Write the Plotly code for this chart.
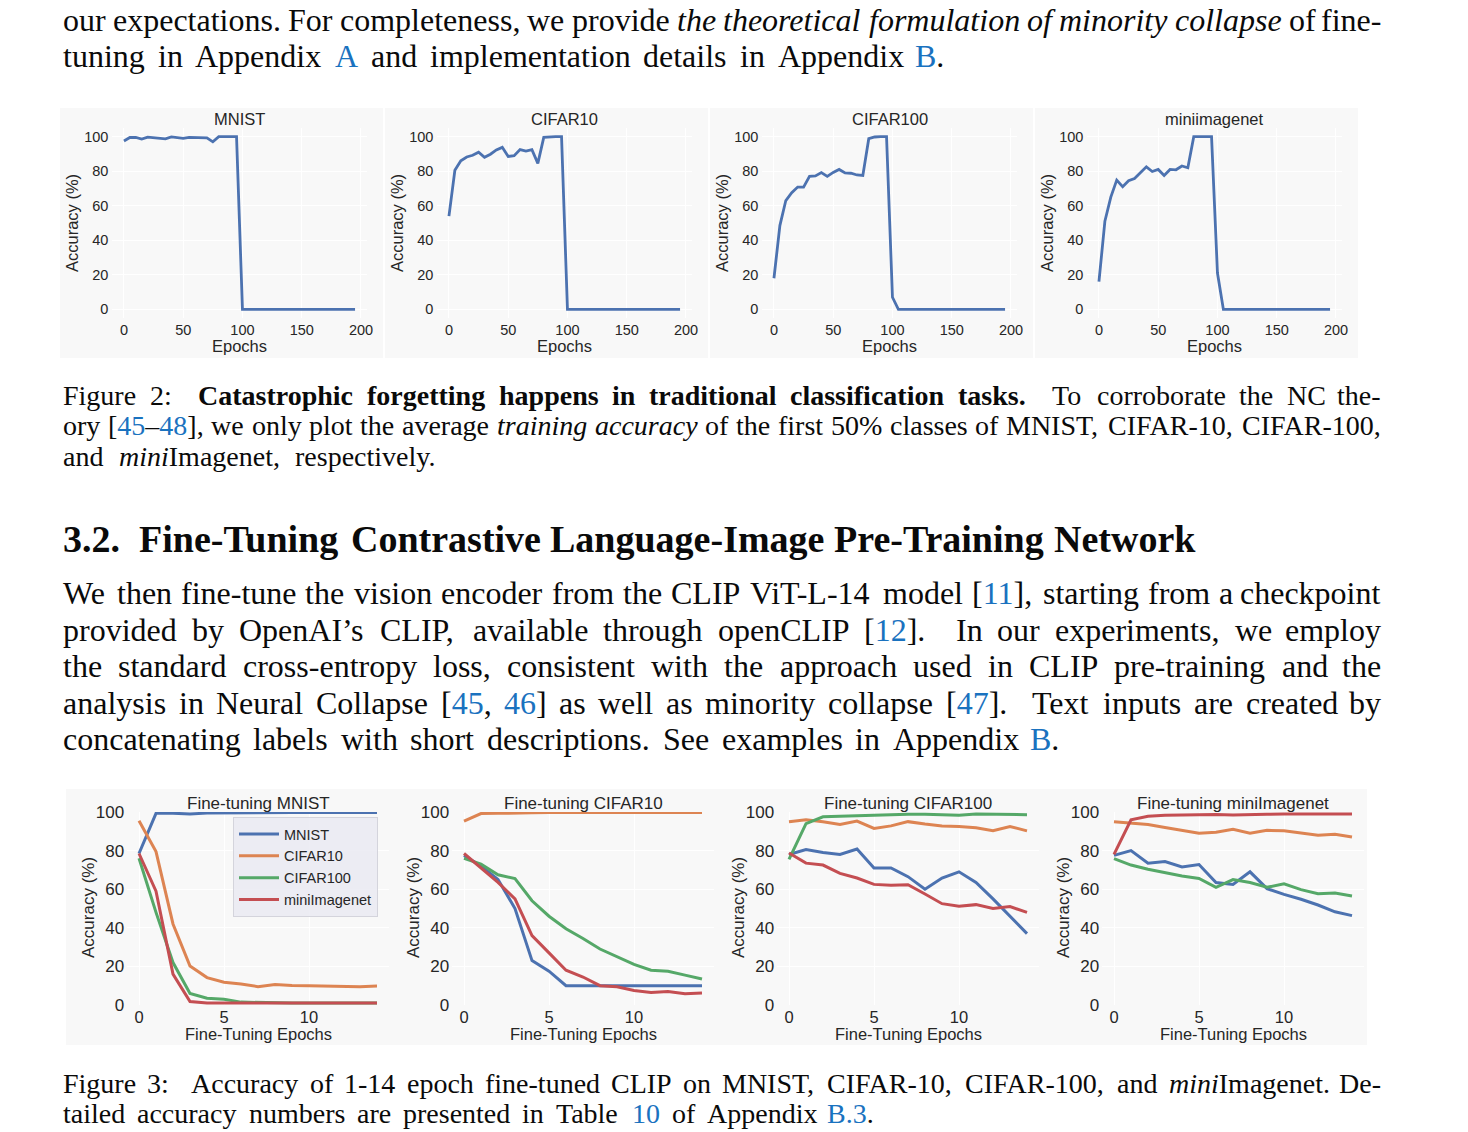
import re
import plotly.graph_objects as go

W, H = 1468, 1132

# ---------------- Figure 2 data (epochs 0..195, step 5) ----------------
EPOCHS = [0, 5, 10, 15, 20, 25, 30, 35, 40, 45, 50, 55, 60, 65, 70, 75, 80, 85, 90, 95,
          100, 105, 110, 115, 120, 125, 130, 135, 140, 145, 150, 155, 160, 165, 170, 175,
          180, 185, 190, 195]
TOP_TITLES = ["MNIST", "CIFAR10", "CIFAR100", "miniimagenet"]
ACC_MNIST = [97.5, 99.5, 99.5, 98.6, 99.7, 99.3, 99.2, 98.7, 99.8, 99.5, 99.0, 99.6, 99.6, 99.6,
             99.3, 97.0, 100, 100, 100, 100, 0, 0, 0, 0, 0, 0, 0, 0, 0, 0, 0, 0, 0, 0, 0, 0,
             0, 0, 0, 0]
ACC_CIFAR10 = [54, 80.5, 86, 88.2, 89.2, 91, 88, 89.8, 92.3, 93.8, 88.5, 89, 92.5, 91.6, 92.5,
               84.5, 99.6, 100, 100, 100, 0, 0, 0, 0, 0, 0, 0, 0, 0, 0, 0, 0, 0, 0, 0, 0,
               0, 0, 0, 0]
ACC_CIFAR100 = [18, 48.5, 63, 67.5, 70.8, 70.8, 77, 77.3, 79.2, 77, 79.3, 81, 79, 78.8, 77.8,
                77.5, 98.8, 99.8, 100, 100, 7, 0, 0, 0, 0, 0, 0, 0, 0, 0, 0, 0, 0, 0, 0, 0,
                0, 0, 0, 0]
ACC_MINI = [16, 51, 65, 74.8, 71, 74.5, 75.8, 79, 82.5, 79.8, 81, 77.5, 81, 80.8, 83, 82,
            100, 100, 100, 100, 21, 0, 0, 0, 0, 0, 0, 0, 0, 0, 0, 0, 0, 0, 0, 0,
            0, 0, 0, 0]
TOP_SERIES = [ACC_MNIST, ACC_CIFAR10, ACC_CIFAR100, ACC_MINI]

# ---------------- Figure 3 data (fine-tuning epochs 0..14) ----------------
FT_EPOCHS = [0, 1, 2, 3, 4, 5, 6, 7, 8, 9, 10, 11, 12, 13, 14]
SERIES_NAMES = ["MNIST", "CIFAR10", "CIFAR100", "miniImagenet"]
BOTTOM_TITLES = ["Fine-tuning MNIST", "Fine-tuning CIFAR10", "Fine-tuning CIFAR100",
                 "Fine-tuning miniImagenet"]

FTM_MNIST = [78.5, 99.3, 99.4, 98.9, 99.5, 99.6, 99.6, 99.6, 99.6, 99.7, 99.7, 99.7, 99.7, 99.7, 99.8]
FTM_CIFAR10 = [95.5, 79.5, 42, 20.2, 14.2, 11.8, 10.9, 9.5, 10.6, 10.1, 10, 9.8, 9.5, 9.5, 9.8]
FTM_CIFAR100 = [76, 48, 22, 6, 3.5, 3, 1.5, 1.2, 1.1, 1, 1, 1, 1, 1, 1]
FTM_MINI = [78.5, 59, 16, 1.8, 1, 1, 1, 1, 1, 1, 1, 1, 1, 1, 1]

FTC10_MNIST = [77.5, 72, 65, 50, 23, 17.5, 10, 10, 10, 10, 10, 10, 10, 10, 10]
FTC10_CIFAR10 = [95.3, 99.2, 99.3, 99.6, 99.6, 99.7, 99.7, 99.7, 99.6, 99.7, 99.7, 99.8, 99.6, 99.7, 99.8]
FTC10_CIFAR100 = [76, 73, 67.5, 65.5, 54, 46, 39.5, 34.5, 29, 25, 21, 18, 17.5, 15.5, 13.5]
FTC10_MINI = [78.5, 71, 63.5, 55, 36, 27, 18, 14.5, 10, 9.5, 7.5, 6.5, 7, 5.8, 6.2]

FTC100_MNIST = [78, 80.5, 79, 78, 80.8, 71, 71, 66.5, 60, 65.8, 69, 63.5, 55, 46, 37]
FTC100_CIFAR10 = [95, 96, 95, 93.5, 95.3, 91.5, 92.8, 95, 93.8, 92.8, 92.5, 91.8, 90.3, 92.5, 90.2]
FTC100_CIFAR100 = [75.5, 94, 97.5, 97.8, 98.1, 98.3, 98.5, 98.8, 98.8, 98.6, 98.3, 98.9, 98.8, 98.8, 98.6]
FTC100_MINI = [78.8, 73.5, 72.5, 68.2, 65.8, 62.5, 62, 62.3, 57.5, 52.5, 51.2, 52, 50, 51, 48]

FTMI_MNIST = [77.5, 80, 73.5, 74.3, 71.5, 72.8, 63.5, 62.5, 69, 60.3, 57.3, 54.8, 51.8, 48.3, 46.3]
FTMI_CIFAR10 = [95, 94.2, 93.5, 92, 90.5, 89, 89.5, 91, 89, 90.5, 90.3, 89, 88, 88.5, 87]
FTMI_CIFAR100 = [75.8, 72.5, 70.3, 68.4, 66.8, 65.6, 61, 65, 63.5, 61, 62.8, 59.8, 57.7, 58, 56.5]
FTMI_MINI = [78, 96, 97.8, 98.3, 98.4, 98.6, 98.7, 98.5, 98.8, 98.8, 98.9, 99, 99, 99, 98.9]

BOTTOM_SERIES = [
    [FTM_MNIST, FTM_CIFAR10, FTM_CIFAR100, FTM_MINI],
    [FTC10_MNIST, FTC10_CIFAR10, FTC10_CIFAR100, FTC10_MINI],
    [FTC100_MNIST, FTC100_CIFAR10, FTC100_CIFAR100, FTC100_MINI],
    [FTMI_MNIST, FTMI_CIFAR10, FTMI_CIFAR100, FTMI_MINI],
]

Y_TICKS = [0, 20, 40, 60, 80, 100]
TOP_X_TICKS = [0, 50, 100, 150, 200]
BOTTOM_X_TICKS = [0, 5, 10]

# ---------------- page text ----------------
TEXT_LINES = [
    (20, 32, 62, 1382, [("n", "our expectations. For completeness, we provide "),
                        ("i", "the theoretical formulation of minority collapse"),
                        ("n", " of fine-")]),
    (56, 32, 62, 945, [("n", "tuning in Appendix "), ("l", "A"),
                       ("n", " and implementation details in Appendix "), ("l", "B"), ("n", ".")]),
    (395, 28, 62, 1382, [("n", "Figure 2:  "),
                         ("b", "Catastrophic forgetting happens in traditional classification tasks."),
                         ("n", "  To corroborate the NC the-")]),
    (425, 28, 62, 1382, [("n", "ory ["), ("l", "45"), ("n", "–"), ("l", "48"),
                         ("n", "], we only plot the average "), ("i", "training accuracy"),
                         ("n", " of the first 50% classes of MNIST, CIFAR-10, CIFAR-100,")]),
    (456, 28, 62, 436, [("n", "and "), ("i", "mini"), ("n", "Imagenet, respectively.")]),
    (539, 38, 62, 1197, [("b", "3.2.  Fine-Tuning Contrastive Language-Image Pre-Training Network")]),
    (593, 32, 62, 1382, [("n", "We then fine-tune the vision encoder from the CLIP ViT-L-14 model ["),
                         ("l", "11"), ("n", "], starting from a checkpoint")]),
    (630, 32, 62, 1382, [("n", "provided by OpenAI’s CLIP, available through openCLIP ["), ("l", "12"),
                         ("n", "].  In our experiments, we employ")]),
    (666, 32, 62, 1382, [("n", "the standard cross-entropy loss, consistent with the approach used in CLIP pre-training and the")]),
    (703, 32, 62, 1382, [("n", "analysis in Neural Collapse ["), ("l", "45"), ("n", ", "), ("l", "46"),
                         ("n", "] as well as minority collapse ["), ("l", "47"),
                         ("n", "].  Text inputs are created by")]),
    (739, 32, 62, 1060, [("n", "concatenating labels with short descriptions. See examples in Appendix "),
                         ("l", "B"), ("n", ".")]),
    (1083, 28, 62, 1382, [("n", "Figure 3:  Accuracy of 1-14 epoch fine-tuned CLIP on MNIST, CIFAR-10, CIFAR-100, and "),
                          ("i", "mini"), ("n", "Imagenet. De-")]),
    (1113, 28, 62, 875, [("n", "tailed accuracy numbers are presented in Table "), ("l", "10"),
                         ("n", " of Appendix "), ("l", "B.3"), ("n", ".")]),
]

# ---------------- styling ----------------
COLORS = ["#4C72B0", "#DD8452", "#55A868", "#C44E52"]
AX_BG = "#EAEAF2"
PANEL_BG = "#f8f8f8"
SANS = "Liberation Sans, Arial, sans-serif"
SERIF = "Liberation Serif, Times New Roman, serif"
TXT = "#262626"
LINK = "#1a72bf"

# Times metrics (1/1000 em) used to space words for justified lines
ROMAN = dict(zip("abcdefghijklmnopqrstuvwxyz",
                 [444, 500, 444, 500, 444, 333, 500, 500, 278, 278, 500, 278, 778, 500, 500, 500,
                  500, 333, 389, 278, 500, 500, 722, 500, 500, 444]))
ROMAN.update(dict(zip("ABCDEFGHIJKLMNOPQRSTUVWXYZ",
                      [722, 667, 667, 722, 611, 556, 722, 722, 333, 389, 722, 611, 889, 722, 722, 556,
                       722, 667, 556, 611, 722, 722, 944, 722, 722, 611])))
ROMAN.update({c: 500 for c in "0123456789"})
ROMAN.update({".": 250, ",": 250, ":": 278, ";": 278, "-": 333, "[": 333, "]": 333, "(": 333,
              ")": 333, "%": 833, "’": 333, "–": 500})
BOLD = dict(ROMAN)
BOLD.update(dict(zip("abcdefghijklmnopqrstuvwxyz",
                     [500, 556, 444, 556, 444, 333, 500, 556, 278, 333, 556, 278, 833, 556, 500, 556,
                      556, 444, 389, 333, 556, 500, 722, 500, 500, 444])))
BOLD.update(dict(zip("ABCDEFGHIJKLMNOPQRSTUVWXYZ",
                     [722, 667, 722, 722, 667, 611, 778, 778, 389, 500, 778, 667, 944, 722, 778, 611,
                      778, 722, 556, 667, 722, 722, 1000, 722, 722, 667])))
BOLD.update({":": 333})
ITAL = dict(ROMAN)
ITAL.update(dict(zip("abcdefghijklmnopqrstuvwxyz",
                     [500, 500, 444, 500, 444, 278, 500, 500, 278, 278, 444, 278, 722, 500, 500, 500,
                      500, 389, 389, 278, 500, 444, 667, 444, 444, 389])))
METRICS = {"n": ROMAN, "l": ROMAN, "b": BOLD, "i": ITAL}


def piece_html(style, tok):
    if style == "b":
        return "<b>" + tok + "</b>"
    if style == "i":
        return "<i>" + tok + "</i>"
    if style == "l":
        return '<span style="color:' + LINK + '">' + tok + "</span>"
    return tok


def tokenize(segs):
    words, cur, cur_sp, nsp = [], None, 0, 0
    for style, text in segs:
        for tok in re.split(r"( +)", text):
            if tok == "":
                continue
            if tok[0] == " ":
                if cur is not None:
                    words.append((cur_sp, cur))
                    cur = None
                nsp += len(tok)
            else:
                if cur is None:
                    cur, cur_sp, nsp = [], nsp, 0
                cur.append((style, tok))
    if cur is not None:
        words.append((cur_sp, cur))
    return words


def line_annotations(y, size, x0, x1, segs):
    words = tokenize(segs)
    widths = [sum(METRICS[s].get(c, 500) for s, t in pieces for c in t) * size / 1000.0
              for _, pieces in words]
    weights = [sp for sp, _ in words[1:]]
    gap = (x1 - x0 - sum(widths)) / max(sum(weights), 1)
    gap = max(gap, 0.12 * size)
    anns = []
    x = x0
    for i, (sp, pieces) in enumerate(words):
        if i > 0:
            x += sp * gap
        html = "".join(piece_html(s, t) for s, t in pieces)
        last = (i == len(words) - 1) and i > 0
        anns.append(dict(x=(x1 if last else x) / W, y=1 - y / H, xref="paper", yref="paper",
                         xanchor="right" if last else "left", yanchor="middle",
                         text=html, showarrow=False, borderpad=0,
                         font=dict(family=SERIF, size=size, color="#0a0a0a")))
        x += widths[i]
    return anns


def dom_x(a, b):
    return [a / W, b / W]


def dom_y(top, bottom):
    return [1 - bottom / H, 1 - top / H]


fig = go.Figure()
layout = dict(width=W, height=H, autosize=False,
              margin=dict(l=0, r=0, t=0, b=0, pad=0, autoexpand=False),
              paper_bgcolor="white", plot_bgcolor=AX_BG, showlegend=True)
annotations = []
shapes = []

# ---- top row (Figure 2) ----
for k in range(4):
    idx = k + 1
    sfx = "" if idx == 1 else str(idx)
    left, right = 112.4 + 325 * k, 366.6 + 325 * k
    top, bottom = 128, 318
    fig.add_trace(go.Scatter(x=EPOCHS, y=TOP_SERIES[k], mode="lines",
                             line=dict(color=COLORS[0], width=2.8),
                             xaxis="x" + sfx, yaxis="y" + sfx, showlegend=False,
                             hoverinfo="skip"))
    layout["xaxis" + sfx] = dict(domain=dom_x(left, right), range=[-9.75, 204.75],
                                 tickvals=TOP_X_TICKS, anchor="y" + sfx, showgrid=True,
                                 gridcolor="white", gridwidth=1, zeroline=False, showline=False,
                                 ticks="", ticklabelstandoff=1, automargin=False,
                                 tickfont=dict(family=SANS, size=14.5, color=TXT))
    layout["yaxis" + sfx] = dict(domain=dom_y(top, bottom), range=[-5, 105],
                                 tickvals=Y_TICKS, anchor="x" + sfx, showgrid=True,
                                 gridcolor="white", gridwidth=1, zeroline=False, showline=False,
                                 ticks="", ticklabelstandoff=3, automargin=False,
                                 tickfont=dict(family=SANS, size=14.5, color=TXT))
    shapes.append(dict(type="rect", xref="paper", yref="paper", layer="below",
                       x0=(60 + 325 * k) / W, x1=(383 + 325 * k) / W,
                       y0=1 - 358 / H, y1=1 - 108 / H, fillcolor=PANEL_BG, line=dict(width=0)))
    cx = (left + right) / 2
    annotations.append(dict(x=cx / W, y=1 - 119 / H, xref="paper", yref="paper",
                            text=TOP_TITLES[k], showarrow=False, xanchor="center",
                            yanchor="middle", font=dict(family=SANS, size=16.5, color=TXT)))
    annotations.append(dict(x=cx / W, y=1 - 346 / H, xref="paper", yref="paper",
                            text="Epochs", showarrow=False, xanchor="center",
                            yanchor="middle", font=dict(family=SANS, size=16.5, color=TXT)))
    annotations.append(dict(x=(72 + 325 * k) / W, y=1 - 223 / H, xref="paper", yref="paper",
                            text="Accuracy (%)", showarrow=False, textangle=-90,
                            xanchor="center", yanchor="middle",
                            font=dict(family=SANS, size=16.5, color=TXT)))

# ---- bottom row (Figure 3) ----
for k in range(4):
    idx = k + 5
    sfx = str(idx)
    left, right = 127.1 + 325 * k, 388.9 + 325 * k
    top, bottom = 812, 1005
    for j in range(4):
        fig.add_trace(go.Scatter(x=FT_EPOCHS, y=BOTTOM_SERIES[k][j], mode="lines",
                                 name=SERIES_NAMES[j],
                                 line=dict(color=COLORS[j], width=3),
                                 xaxis="x" + sfx, yaxis="y" + sfx, showlegend=(k == 0),
                                 hoverinfo="skip"))
    layout["xaxis" + sfx] = dict(domain=dom_x(left, right), range=[-0.7, 14.7],
                                 tickvals=BOTTOM_X_TICKS, anchor="y" + sfx, showgrid=True,
                                 gridcolor="white", gridwidth=1, zeroline=False, showline=False,
                                 ticks="", ticklabelstandoff=0, automargin=False,
                                 tickfont=dict(family=SANS, size=16.5, color=TXT))
    layout["yaxis" + sfx] = dict(domain=dom_y(top, bottom), range=[0, 100],
                                 tickvals=Y_TICKS, anchor="x" + sfx, showgrid=True,
                                 gridcolor="white", gridwidth=1, zeroline=False, showline=False,
                                 ticks="", ticklabelstandoff=2, automargin=False,
                                 tickfont=dict(family=SANS, size=17, color=TXT))
    shapes.append(dict(type="rect", xref="paper", yref="paper", layer="below",
                       x0=(66 + 325 * k) / W, x1=(392 + 325 * k) / W,
                       y0=1 - 1045 / H, y1=1 - 789 / H, fillcolor=PANEL_BG, line=dict(width=0)))
    cx = (left + right) / 2
    annotations.append(dict(x=cx / W, y=1 - 803 / H, xref="paper", yref="paper",
                            text=BOTTOM_TITLES[k], showarrow=False, xanchor="center",
                            yanchor="middle", font=dict(family=SANS, size=17, color=TXT)))
    annotations.append(dict(x=cx / W, y=1 - 1034 / H, xref="paper", yref="paper",
                            text="Fine-Tuning Epochs", showarrow=False, xanchor="center",
                            yanchor="middle", font=dict(family=SANS, size=16.5, color=TXT)))
    annotations.append(dict(x=(88 + 325 * k) / W, y=1 - 908 / H, xref="paper", yref="paper",
                            text="Accuracy (%)", showarrow=False, textangle=-90,
                            xanchor="center", yanchor="middle",
                            font=dict(family=SANS, size=17, color=TXT)))

# ---- page text ----
for (ly, size, x0, x1, segs) in TEXT_LINES:
    annotations.extend(line_annotations(ly, size, x0, x1, segs))

layout["annotations"] = annotations
layout["shapes"] = shapes
layout["legend"] = dict(x=233 / W, y=1 - 817 / H, xanchor="left", yanchor="top",
                        bgcolor="rgba(234,234,242,0.85)", bordercolor="#d4d4dc", borderwidth=1,
                        font=dict(family=SANS, size=14.5, color=TXT), itemwidth=40,
                        tracegroupgap=0)
fig.update_layout(**layout)
fig.write_html("out.html")
